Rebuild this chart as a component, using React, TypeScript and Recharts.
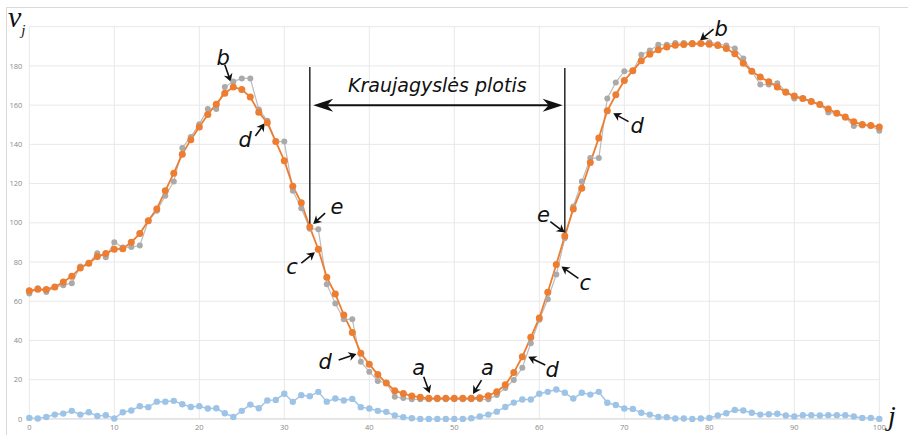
import React from "react";
import {
  LineChart,
  Line,
  XAxis,
  YAxis,
  CartesianGrid,
  ReferenceLine,
  ReferenceDot,
} from "recharts";

// raw intensity profile (gray)
const rawValues = [
  63.9, 66.6, 64.7, 67.2, 68.2, 69.2, 77.7, 79.4, 84.5, 82.4, 90.1, 87.4, 87.6,
  88.4, 101, 106.1, 113.8, 121, 138.2, 143.8, 150.3, 158, 158, 169.2, 172,
  173.6, 173.6, 157.8, 152.1, 141.4, 141.4, 116.3, 107.4, 97, 96.7, 68.7, 58.8,
  50.8, 50.8, 29.2, 24.1, 19.3, 18.3, 11.3, 10.6, 10, 10, 10, 10, 10, 10, 10,
  10, 10, 10, 12.2, 15.8, 19.8, 26.1, 38.6, 50.5, 61, 73.6, 92.1, 108.3, 121,
  133, 133, 163.4, 171.6, 177.3, 177.5, 185.7, 187.9, 190.8, 190.8, 191.7,
  191.7, 191.7, 191.4, 192.1, 191.1, 190.4, 188.9, 183.8, 177.3, 170.5, 170.5,
  171.2, 167, 163.4, 163.4, 162, 160.5, 156.2, 155.9, 153.7, 149.4, 149.6,
  149.6, 146.9,
];

// smoothed profile (orange)
const smoothValues = [
  65.4, 66.1, 66, 67.3, 69.8, 72.7, 77, 79.4, 82.8, 84.3, 86.5, 86.8, 90.1,
  94.5, 101.1, 107.1, 116.3, 125.3, 135, 142.4, 148.8, 155.2, 160.5, 166.1,
  169.2, 168, 164.1, 156.4, 151, 141.4, 131.7, 118.7, 110.2, 97.8, 86.5, 72.2,
  63.7, 53, 44, 33.5, 27.9, 22.6, 18.3, 14.4, 12.9, 11.7, 11, 10.5, 10.5, 10.5,
  10.5, 10.5, 10.5, 10.8, 11.8, 13.9, 17.4, 23.6, 31.7, 41.6, 51.5, 64.6, 78.7,
  93.3, 107.1, 117.6, 130.7, 143.3, 157.1, 165.3, 172.6, 177.5, 182.6, 186,
  188.2, 189.6, 190.6, 190.9, 191.3, 191.4, 191, 190.4, 188.9, 186.2, 181.4,
  177.3, 174.3, 171.9, 169.3, 166.6, 164.6, 163.4, 161.8, 160.3, 158, 155.9,
  153.9, 151.5, 150.1, 149.6, 148.9,
];

// difference (blue)
const diffValues = [
  0.5, 0.2, 1, 2.2, 2.7, 4.1, 2.2, 3.4, 1.5, 1.9, 0.2, 3.4, 4.3, 6.5, 6, 8.8,
  8.8, 9.2, 7.5, 6.1, 6.5, 5.3, 5.4, 2.9, 1, 4.1, 7.3, 5.4, 9.4, 9.7, 12.8, 8.7,
  12.1, 11.6, 13.8, 8.8, 10.4, 9.4, 10.2, 6, 5.3, 4.1, 3.6, 1.7, 0.9, 0.3, 0, 0,
  0, 0, 0, 0, 0.3, 1.2, 2.2, 3.7, 6.1, 8.3, 9.9, 9.9, 12.8, 13.8, 15, 13.3,
  10.4, 13.3, 12.4, 13.8, 8.2, 7.1, 5.3, 5.1, 3.1, 2.2, 1, 0.9, 0.2, 0.2, 0,
  0.2, 0.5, 1.7, 2.9, 4.6, 4.3, 3.1, 2.2, 2.4, 2.6, 1.7, 1.2, 1.9, 1.9, 1.7,
  1.9, 1.9, 1.9, 1.2, 0.5, 0.5, 0,
];

const xTicks = [0, 10, 20, 30, 40, 50, 60, 70, 80, 90, 100];
const yTicks = [0, 20, 40, 60, 80, 100, 120, 140, 160, 180, 200];

// annotation letters: text position, arrow tail, arrow head (data coords)
const letterNotes = [
  { label: "b", text: [22.8, 184.1], tail: [23.0, 180.6], head: [23.7, 171.9] },
  { label: "d", text: [25.4, 142.3], tail: [26.6, 144.3], head: [27.7, 150.8] },
  { label: "e", text: [36.2, 108.3], tail: [34.8, 104.9], head: [33.4, 99.4] },
  { label: "c", text: [30.9, 77.7], tail: [32.0, 79.4], head: [33.6, 85] },
  { label: "d", text: [34.8, 29.2], tail: [36.4, 30], head: [38.5, 33.1] },
  { label: "a", text: [45.8, 25.8], tail: [46.4, 21.5], head: [47.1, 13.1] },
  { label: "a", text: [53.9, 25.8], tail: [53.2, 19.8], head: [52.2, 12.7] },
  { label: "d", text: [61.5, 24.9], tail: [60.7, 27.5], head: [58.7, 31.7] },
  { label: "c", text: [65.4, 69.2], tail: [64.6, 71.7], head: [62.6, 77.7] },
  { label: "e", text: [60.5, 104], tail: [61.3, 100.6], head: [63.0, 95] },
  { label: "d", text: [71.5, 149.4], tail: [70.5, 151.6], head: [68.7, 155.9] },
  { label: "b", text: [81.4, 198.8], tail: [80.5, 198.8], head: [78.9, 193] },
];

const widthTitle = "Kraujagyslės plotis";

const data = smoothValues.map((v, i) => ({
  j: i,
  raw: rawValues[i],
  smooth: v,
  diff: diffValues[i],
}));

const head = (x1: number, y1: number, x2: number, y2: number, len: number, half: number) => {
  const dx = x2 - x1;
  const dy = y2 - y1;
  const d = Math.sqrt(dx * dx + dy * dy) || 1;
  const ux = dx / d;
  const uy = dy / d;
  const bx = x2 - ux * len;
  const by = y2 - uy * len;
  const nx = x2 - ux * len * 0.7;
  const ny = y2 - uy * len * 0.7;
  return `${x2},${y2} ${bx - uy * half},${by + ux * half} ${nx},${ny} ${bx + uy * half},${by - ux * half}`;
};

const arrowShape = (p: any) => {
  const { x1, y1, x2, y2 } = p;
  const dx = x2 - x1;
  const dy = y2 - y1;
  const d = Math.sqrt(dx * dx + dy * dy) || 1;
  const ex = x2 - (dx / d) * 5;
  const ey = y2 - (dy / d) * 5;
  return (
    <g>
      <line x1={x1} y1={y1} x2={ex} y2={ey} stroke="#111" strokeWidth={1.6} />
      <polygon points={head(x1, y1, x2, y2, 8, 4.5)} fill="#111" />
    </g>
  );
};

const doubleArrowShape = (p: any) => {
  const { x1, y1, x2, y2 } = p;
  return (
    <g>
      <line x1={x1 + 10} y1={y1} x2={x2 - 10} y2={y2} stroke="#111" strokeWidth={2} />
      <polygon points={head(x2, y2, x1, y1, 20, 6.5)} fill="#111" />
      <polygon points={head(x1, y1, x2, y2, 20, 6.5)} fill="#111" />
    </g>
  );
};

const letterShape = (label: string, size: number) => (p: any) => (
  <text
    x={p.cx}
    y={p.cy}
    textAnchor="middle"
    dominantBaseline="central"
    fontFamily="'DejaVu Sans', sans-serif"
    fontStyle="italic"
    fontSize={size}
    fill="#111"
  >
    {label}
  </text>
);

const App: React.FC = () => {
  return (
    <div
      style={{
        position: "fixed",
        left: 0,
        top: 0,
        width: 908,
        height: 435,
        background: "#fff",
        overflow: "hidden",
      }}
    >
      <div
        style={{
          position: "absolute",
          left: 6,
          top: 7,
          width: 950,
          height: 480,
          border: "1px solid #d9d9d9",
        }}
      />
      <div style={{ position: "absolute", left: 0, top: 0 }}>
        <LineChart
          width={908}
          height={435}
          data={data}
          margin={{ top: 26.7, right: 28.7, bottom: 0, left: 0 }}
        >
          <CartesianGrid stroke="#e8e8e8" strokeWidth={1} />
          <XAxis
            dataKey="j"
            type="number"
            domain={[0, 100]}
            ticks={xTicks}
            height={16.1}
            tickSize={0}
            tickMargin={6}
            axisLine={{ stroke: "#d9d9d9" }}
            tick={{ fontSize: 7.5, fill: "#8a8a8a", fontFamily: "'Open Sans', sans-serif" }}
            interval={0}
          />
          <YAxis
            type="number"
            domain={[0, 200]}
            ticks={yTicks}
            width={29.3}
            tickSize={0}
            tickMargin={7}
            axisLine={false}
            tickFormatter={(v: number) => (v === 200 ? "" : String(v))}
            tick={{ fontSize: 7.5, fill: "#8a8a8a", fontFamily: "'Open Sans', sans-serif" }}
            interval={0}
          />
          <Line
            dataKey="raw"
            stroke="#bcbcbc"
            strokeWidth={1.2}
            dot={{ r: 3, fill: "#aaaaaa", stroke: "none" }}
            activeDot={false}
            isAnimationActive={false}
          />
          <Line
            dataKey="diff"
            stroke="#a3c6e8"
            strokeWidth={1.5}
            dot={{ r: 3.2, fill: "#9dc3e6", stroke: "none" }}
            activeDot={false}
            isAnimationActive={false}
          />
          <Line
            dataKey="smooth"
            stroke="#ed7d31"
            strokeWidth={1.8}
            dot={{ r: 3.5, fill: "#ed7d31", stroke: "none" }}
            activeDot={false}
            isAnimationActive={false}
          />
          <ReferenceLine
            segment={[
              { x: 33, y: 97.8 },
              { x: 33, y: 179.5 },
            ]}
            stroke="#333"
            strokeWidth={1.6}
            ifOverflow="visible"
          />
          <ReferenceLine
            segment={[
              { x: 63, y: 93.3 },
              { x: 63, y: 179 },
            ]}
            stroke="#333"
            strokeWidth={1.6}
            ifOverflow="visible"
          />
          <ReferenceLine
            segment={[
              { x: 33.4, y: 160 },
              { x: 62.75, y: 160 },
            ]}
            shape={doubleArrowShape}
            ifOverflow="visible"
          />
          <ReferenceDot
            x={48}
            y={170.5}
            r={0}
            ifOverflow="visible"
            shape={letterShape(widthTitle, 19)}
          />
          {letterNotes.map((n, k) => (
            <ReferenceLine
              key={`a${k}`}
              segment={[
                { x: n.tail[0], y: n.tail[1] },
                { x: n.head[0], y: n.head[1] },
              ]}
              shape={arrowShape}
              ifOverflow="visible"
            />
          ))}
          {letterNotes.map((n, k) => (
            <ReferenceDot
              key={`t${k}`}
              x={n.text[0]}
              y={n.text[1]}
              r={0}
              ifOverflow="visible"
              shape={letterShape(n.label, 21)}
            />
          ))}
        </LineChart>
      </div>
      <div
        style={{
          position: "absolute",
          left: 8,
          top: 2,
          fontFamily: "'Liberation Serif', serif",
          fontStyle: "italic",
          fontSize: 30,
          color: "#111",
          lineHeight: "30px",
        }}
      >
        v
        <span style={{ fontSize: 15, position: "relative", top: 8 }}>j</span>
      </div>
      <div
        style={{
          position: "absolute",
          left: 888,
          top: 402,
          fontFamily: "'Liberation Serif', serif",
          fontStyle: "italic",
          fontSize: 28,
          color: "#111",
          lineHeight: "28px",
        }}
      >
        j
      </div>
    </div>
  );
};

export default App;
